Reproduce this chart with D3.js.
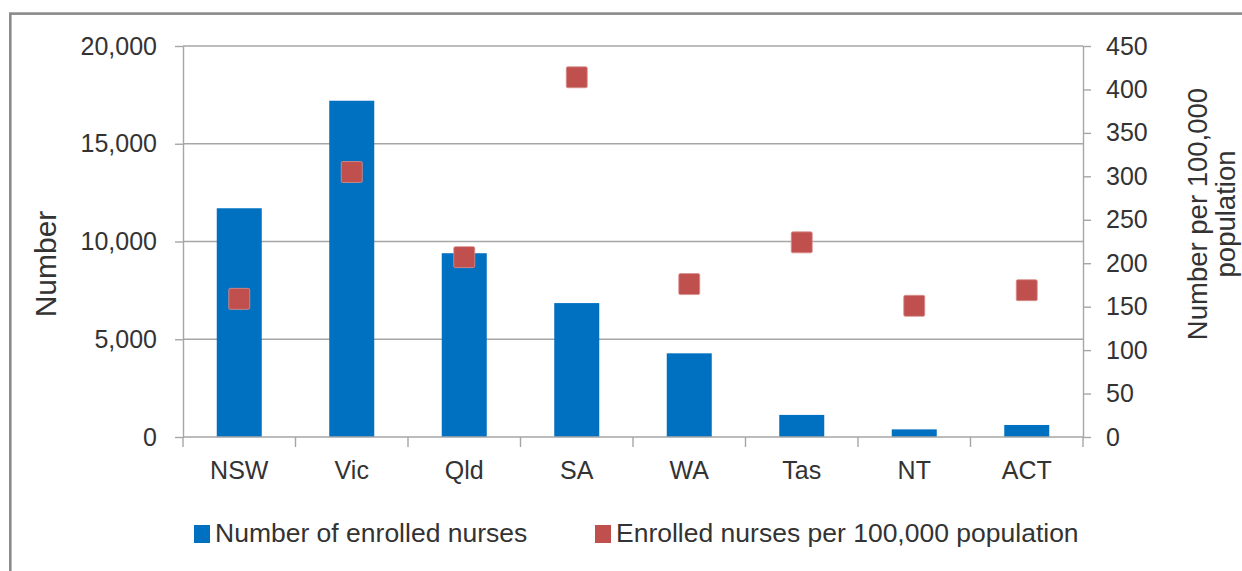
<!DOCTYPE html>
<html>
<head>
<meta charset="utf-8">
<script src="https://cdn.jsdelivr.net/npm/d3@7"></script>
<style>
  html, body { margin: 0; padding: 0; background: #fff; }
  svg { display: block; }
</style>
</head>
<body>
<svg id="chart" width="1242" height="571"></svg>
<script>
const categories = ["NSW", "Vic", "Qld", "SA", "WA", "Tas", "NT", "ACT"];
const enrolledNurses = [11700, 17200, 9400, 6850, 4280, 1130, 390, 615];
const nursesPer100k = [159, 305, 207, 414, 176, 224, 151, 169];
const leftTicks = [0, 5000, 10000, 15000, 20000];
const rightTicks = [0, 50, 100, 150, 200, 250, 300, 350, 400, 450];
const seriesNames = ["Number of enrolled nurses", "Enrolled nurses per 100,000 population"];
const leftTitle = "Number";
const rightTitleLines = ["Number per 100,000", "population"];

const BLUE = "#0070C0", RED = "#C0504D", GRID = "#A6A6A6", TEXT = "#333333";
const plot = { left: 183, right: 1083, top: 46, bottom: 437 };

const svg = d3.select("#chart");

// detect narrow font
function measure(family, size, str) {
  const t = svg.append("text").attr("font-family", family).attr("font-size", size).text(str);
  const w = t.node().getComputedTextLength();
  t.remove();
  return w;
}
let narrowFam = "'Liberation Sans Narrow'", narrowSize = 29;
const wN = measure("'Liberation Sans Narrow', monospace", 29, "20,000");
const wM = measure("monospace", 29, "20,000");
if (Math.abs(wN - wM) < 0.5) { narrowFam = "'Liberation Sans', Arial, sans-serif"; narrowSize = 25; }
const wideFam = "'Liberation Sans', Arial, sans-serif";

// frame
svg.append("rect").attr("x", 10.3).attr("y", 13.6).attr("width", 1400).attr("height", 800)
  .attr("fill", "none").attr("stroke", "#8A8A8A").attr("stroke-width", 2.6);

const x = d3.scaleBand().domain(categories).range([plot.left, plot.right])
  .paddingInner(0.6).paddingOuter(0.3);
const yL = d3.scaleLinear().domain([0, 20000]).range([plot.bottom, plot.top]);
const yR = d3.scaleLinear().domain([0, 450]).range([plot.bottom, plot.top]);

// gridlines
svg.append("g").selectAll("line").data(leftTicks.filter(d => d > 0)).join("line")
  .attr("x1", plot.left).attr("x2", plot.right)
  .attr("y1", d => yL(d)).attr("y2", d => yL(d))
  .attr("stroke", GRID).attr("stroke-width", 1.4);

// left axis
const gL = svg.append("g").attr("transform", `translate(${plot.left},0)`)
  .call(d3.axisLeft(yL).tickValues(leftTicks).tickFormat(d3.format(",")).tickSize(8).tickSizeOuter(0).tickPadding(18));
// right axis
const gR = svg.append("g").attr("transform", `translate(${plot.right},0)`)
  .call(d3.axisRight(yR).tickValues(rightTicks).tickSize(8).tickSizeOuter(0).tickPadding(15));
[gL, gR].forEach(g => {
  g.select(".domain").attr("stroke", GRID).attr("stroke-width", 1.4);
  g.selectAll(".tick line").attr("stroke", GRID).attr("stroke-width", 1.4);
  g.selectAll(".tick text").attr("font-family", narrowFam).attr("font-size", narrowSize).attr("fill", TEXT);
});

// bars
svg.append("g").selectAll("rect").data(categories).join("rect")
  .attr("x", d => x(d)).attr("width", x.bandwidth())
  .attr("y", (d, i) => yL(enrolledNurses[i]))
  .attr("height", (d, i) => plot.bottom - yL(enrolledNurses[i]))
  .attr("fill", BLUE);

// bottom axis
const step = x.step();
const boundaries = d3.range(categories.length + 1).map(i => plot.left + i * step);
const gB = svg.append("g");
gB.append("line").attr("x1", plot.left).attr("x2", plot.right)
  .attr("y1", plot.bottom).attr("y2", plot.bottom).attr("stroke", GRID).attr("stroke-width", 1.6);
gB.selectAll("line.b").data(boundaries).join("line").attr("class", "b")
  .attr("x1", d => d).attr("x2", d => d).attr("y1", plot.bottom).attr("y2", plot.bottom + 10)
  .attr("stroke", GRID).attr("stroke-width", 1.4);
gB.selectAll("text").data(categories).join("text")
  .attr("x", d => x(d) + x.bandwidth() / 2).attr("y", 479)
  .attr("text-anchor", "middle").attr("font-family", narrowFam).attr("font-size", narrowSize)
  .attr("fill", TEXT).text(d => d);

// squares
const sq = 21;
svg.append("g").selectAll("rect").data(categories).join("rect")
  .attr("x", d => x(d) + x.bandwidth() / 2 - sq / 2)
  .attr("y", (d, i) => yR(nursesPer100k[i]) - sq / 2)
  .attr("width", sq).attr("height", sq).attr("rx", 1.5)
  .attr("fill", RED).attr("stroke", "#D9908E").attr("stroke-width", 0.8);

// axis titles
svg.append("text").attr("transform", "translate(56,264) rotate(-90)")
  .attr("text-anchor", "middle").attr("font-family", wideFam).attr("font-size", 30)
  .attr("fill", TEXT).text(leftTitle);
const rt = svg.append("text").attr("transform", "translate(1207,214) rotate(-90)")
  .attr("text-anchor", "middle").attr("font-family", wideFam).attr("font-size", 27.5).attr("fill", TEXT);
rightTitleLines.forEach((l, i) => rt.append("tspan").attr("x", 0).attr("y", i * 28).text(l));

// legend
const legendX = [194, 595];
const lg = svg.append("g");
seriesNames.forEach((name, i) => {
  lg.append("rect").attr("x", legendX[i]).attr("y", 525).attr("width", 16).attr("height", 18)
    .attr("fill", i === 0 ? BLUE : RED);
  lg.append("text").attr("x", legendX[i] + 21).attr("y", 542)
    .attr("font-family", wideFam).attr("font-size", 26.5).attr("fill", TEXT).text(name);
});
</script>
</body>
</html>
